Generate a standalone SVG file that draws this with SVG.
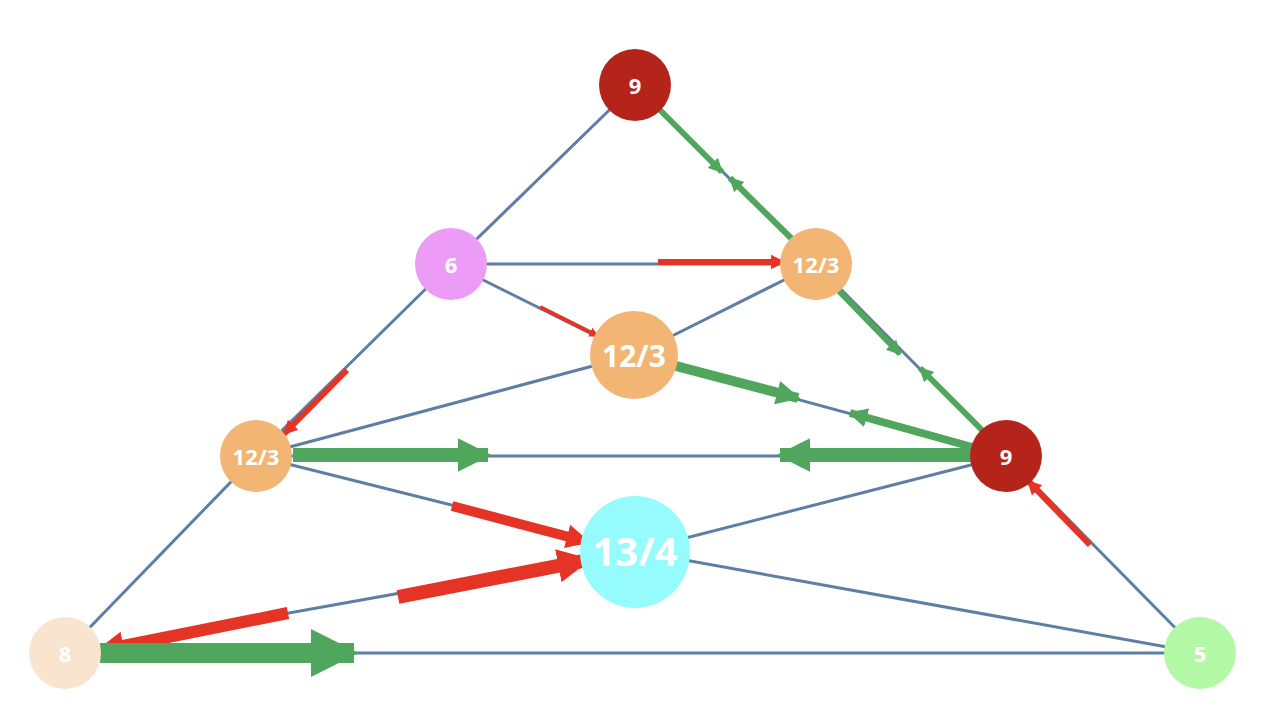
<svg xmlns="http://www.w3.org/2000/svg" width="1270" height="714" viewBox="0 0 1270 714">
<style>
.e{stroke:#5f7ea3;stroke-width:3;fill:none}
.g{stroke:#50a65d;fill:none;marker-end:url(#mg)}
.r{stroke:#e53325;fill:none;marker-end:url(#mr)}
text{font-family:"Open Sans","Liberation Sans",sans-serif;font-weight:bold;fill:#fff;text-anchor:middle;dominant-baseline:central}
</style>
<defs>
<marker id="mg" viewBox="0 0 10 10" refX="9" refY="5" markerWidth="2.4" markerHeight="3" orient="auto" markerUnits="strokeWidth"><path d="M0,0L10,5L0,10z" fill="#50a65d"/></marker>
<marker id="mr" viewBox="0 0 10 10" refX="9" refY="5" markerWidth="2.4" markerHeight="3" orient="auto" markerUnits="strokeWidth"><path d="M0,0L10,5L0,10z" fill="#e53325"/></marker>
</defs>
<rect width="1270" height="714" fill="#fff"/>
<g id="edges">
<path class="e" d="M635,85L451,264M635,85L816,264M451,264L816,264M451,264L256,456M451,264L634,355M816,264L634,355M816,264L1006,456M634,355L256,456M634,355L1006,456M256,456L1006,456M256,456L65,653M256,456L635,551M635,551L65,653M635,551L1006,456M635,551L1200,653M65,653L1200,653M1006,456L1200,653"/>
</g>
<g id="connectors">
<path class="g" stroke-width="6" d="M658,108L722,172"/>
<path class="g" stroke-width="6" d="M793,240L730,178"/>
<path class="g" stroke-width="6" d="M838,290L900,354"/>
<path class="g" stroke-width="6" d="M982,430L920,368"/>
<path class="r" stroke-width="6" d="M658,262L784,262"/>
<path class="r" stroke-width="4" d="M540,307L598,336"/>
<path class="r" stroke-width="6" d="M347,370L284,434"/>
<path class="g" stroke-width="10" d="M676,366L798,398"/>
<path class="g" stroke-width="8" d="M972,447L850,413"/>
<path class="g" stroke-width="14" d="M293,455L488,455"/>
<path class="g" stroke-width="14" d="M972,455L780,455"/>
<path class="r" stroke-width="10" d="M452,506L588,542"/>
<path class="r" stroke-width="14" d="M398,597L588,560"/>
<path class="r" stroke-width="12" d="M288,613L98,651"/>
<path class="g" stroke-width="20" d="M100,653L354,653"/>
<path class="r" stroke-width="6" d="M1090,545L1028,481"/>
</g>
<g id="n1"><circle cx="635" cy="85" r="36" fill="#b5241b"/><text x="635" y="85" font-size="22">9</text></g>
<g id="n2"><circle cx="451" cy="264" r="36" fill="#ec9cf7"/><text x="451" y="264" font-size="22">6</text></g>
<g id="n3"><circle cx="816" cy="264" r="36" fill="#f2b574"/><text x="816" y="264" font-size="22">12/3</text></g>
<g id="n4"><circle cx="634" cy="355" r="44" fill="#f2b574"/><text x="634" y="355" font-size="30">12/3</text></g>
<g id="n5"><ellipse cx="256" cy="456" rx="36" ry="36" fill="#f2b574"/><text x="256" y="456" font-size="22">12/3</text></g>
<g id="n6"><circle cx="1006" cy="456" r="36" fill="#b5241b"/><text x="1006" y="456" font-size="22">9</text></g>
<g id="n7"><ellipse cx="635" cy="552" rx="55" ry="56" fill="#96fbfc"/><text x="635" y="550" font-size="40">13/4</text></g>
<g id="n8"><ellipse cx="65" cy="653" rx="36" ry="36" fill="#f8e4cf"/><text x="65" y="653" font-size="22">8</text></g>
<g id="n9"><circle cx="1200" cy="653" r="36" fill="#b3f9a5"/><text x="1200" y="653" font-size="22">5</text></g>
</svg>
